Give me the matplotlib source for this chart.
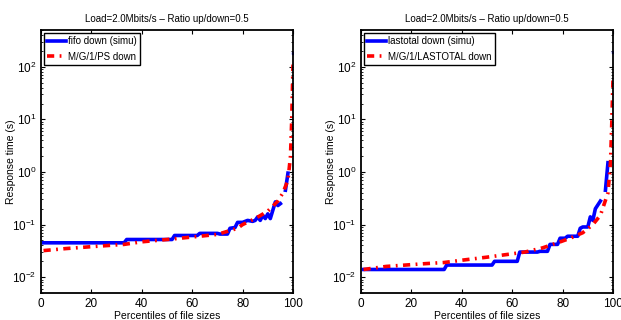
import matplotlib
matplotlib.use('Agg')
import matplotlib.pyplot as plt

plt.rcParams['font.family'] = ['Liberation Sans', 'DejaVu Sans']

# left panel: fifo
fifo_x = [1, 33, 34, 52, 53, 62, 63, 70, 71, 74, 75, 77, 78, 80, 82, 84, 85, 86, 87, 88, 89, 90, 91, 93, 94, 95]
fifo_y = [0.045, 0.045, 0.052, 0.052, 0.062, 0.062, 0.068, 0.068, 0.066, 0.066, 0.085, 0.088, 0.11, 0.11, 0.12, 0.115, 0.12, 0.14, 0.12, 0.15, 0.13, 0.16, 0.13, 0.27, 0.23, 0.25]
fifo_tail_x = [97, 98]
fifo_tail_y = [0.45, 0.95]
fifo_last = (100, 180)

ps_x = [1, 10, 20, 33, 40, 50, 60, 70, 78, 80, 85, 90, 94, 96, 98, 99, 99.5, 100]
ps_y = [0.032, 0.035, 0.038, 0.042, 0.047, 0.052, 0.058, 0.065, 0.085, 0.1, 0.13, 0.18, 0.28, 0.4, 0.7, 2.0, 10, 110]

# right panel: lastotal
las_x = [1, 33, 34, 52, 53, 62, 63, 70, 71, 74, 75, 78, 79, 81, 82, 86, 87, 88, 90, 91, 92, 93, 95]
las_y = [0.014, 0.014, 0.017, 0.017, 0.020, 0.020, 0.030, 0.030, 0.031, 0.031, 0.042, 0.042, 0.055, 0.055, 0.06, 0.06, 0.085, 0.09, 0.09, 0.14, 0.12, 0.2, 0.28]
las_tail_x = [97, 98]
las_tail_y = [0.45, 1.5]
las_last = (100, 190)

mg_x = [1, 10, 25, 33, 40, 50, 58, 65, 72, 78, 83, 88, 92, 95, 98, 99, 99.5, 100]
mg_y = [0.014, 0.016, 0.018, 0.019, 0.021, 0.024, 0.027, 0.030, 0.036, 0.045, 0.055, 0.07, 0.1, 0.15, 0.4, 1.5, 8, 60]

title = 'Load=2.0Mbits/s \u2013 Ratio up/down=0.5'

fig = plt.figure(figsize=(6.21, 3.2), dpi=100)
ax1 = fig.add_axes([41/621, 1 - 293/320, 252/621, 263/320])
ax2 = fig.add_axes([361/621, 1 - 293/320, 252/621, 263/320])

panels = [
    (ax1, fifo_x, fifo_y, fifo_tail_x, fifo_tail_y, fifo_last, ps_x, ps_y, 'fifo down (simu)', 'M/G/1/PS down'),
    (ax2, las_x, las_y, las_tail_x, las_tail_y, las_last, mg_x, mg_y, 'lastotal down (simu)', 'M/G/1/LASTOTAL down'),
]

for ax, bx, by, tx, ty, last, rx, ry, lb, lr in panels:
    ax.plot(bx, by, color='#0000ff', lw=2.6, label=lb)
    ax.plot(tx, ty, color='#0000ff', lw=2.6)
    ax.plot([last[0]], [last[1]], 's', color='#0000ff', ms=1.5)
    ax.plot(rx, ry, color='#ff0000', lw=2.6, ls='-.', dashes=(2, 1.5, 0.5, 1.5), label=lr)
    ax.set_yscale('log')
    ax.set_xlim(0, 100)
    ax.set_ylim(0.005, 500)
    ax.set_xticks([0, 20, 40, 60, 80, 100])
    ax.set_yticks([1e-2, 1e-1, 1, 10, 100])
    ax.tick_params(which='both', direction='in', top=True, right=True, labelsize=8.5)
    ax.tick_params(which='major', length=3)
    ax.tick_params(which='minor', length=1.5)
    for s in ax.spines.values():
        s.set_linewidth(1.3)
    ax.set_title(title, fontsize=7, pad=6)
    ax.set_xlabel('Percentiles of file sizes', fontsize=7.5, labelpad=1)
    ax.set_ylabel('Response time (s)', fontsize=7.5)
    ax.yaxis.set_label_coords(-0.1, 0.5)
    leg = ax.legend(loc='upper left', fontsize=7, fancybox=False, framealpha=1,
                    edgecolor='black', borderpad=0.35, handlelength=1.9,
                    handletextpad=0.2, labelspacing=0.55, borderaxespad=0.3)
    leg.get_frame().set_linewidth(1.0)

fig.savefig('out.png', dpi=100)
